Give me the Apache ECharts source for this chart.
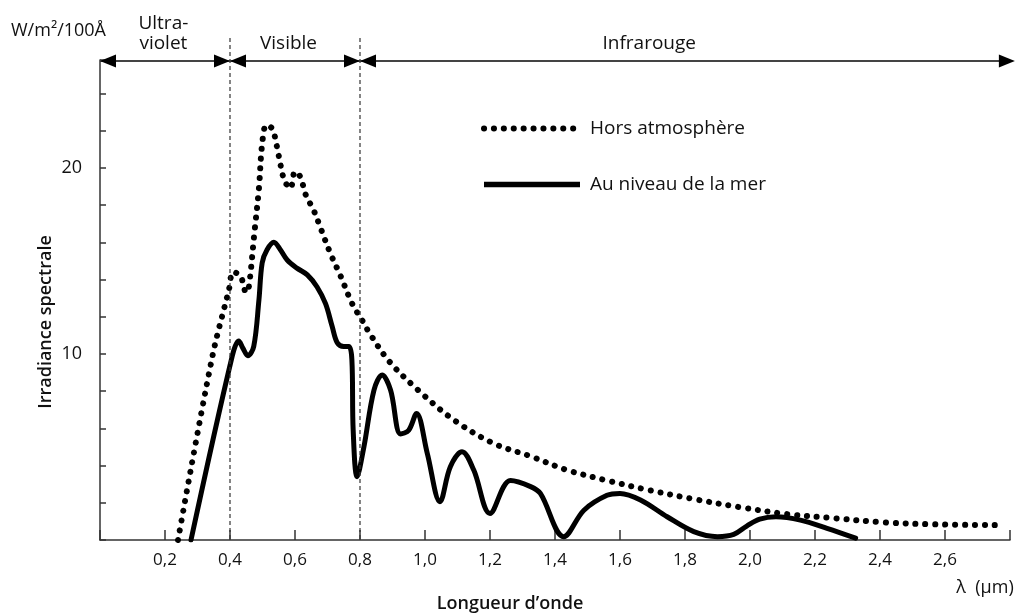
<!DOCTYPE html>
<html>
<head>
<meta charset="utf-8">
<script src="https://cdn.jsdelivr.net/npm/echarts@6/dist/echarts.min.js"></script>
<style>
html,body{margin:0;padding:0;background:#fff;}
#chart{width:1020px;height:614px;}
</style>
</head>
<body>
<div id="chart"></div>
<script>
// ---- Data ----
const seriesNames = ['Hors atmosphère', 'Au niveau de la mer'];
// Hors atmosphère (dotted)
const outsideX = [0.24, 0.345, 0.396, 0.41, 0.432, 0.45, 0.458, 0.475, 0.489, 0.499, 0.512, 0.53, 0.545, 0.555, 0.568, 0.586, 0.6, 0.617, 0.632, 0.658, 0.678, 0.709, 0.74, 0.776, 0.807, 0.83, 0.89, 0.976, 1.089, 1.21, 1.325, 1.437, 1.56, 1.684, 1.827, 1.97, 2.11, 2.26, 2.41, 2.57, 2.755];
const outsideY = [0, 9.8, 13.4, 14.4, 14.2, 13.3, 13.6, 16.5, 18.9, 21.3, 22.3, 22.1, 21.1, 20.2, 19.3, 18.9, 19.8, 19.5, 18.6, 17.7, 16.8, 15.4, 14.2, 12.7, 11.8, 11.1, 9.6, 8.1, 6.45, 5.2, 4.5, 3.76, 3.2, 2.7, 2.2, 1.76, 1.4, 1.17, 0.95, 0.84, 0.8];
// Au niveau de la mer (solid)
const seaX = [0.28, 0.407, 0.427, 0.44, 0.455, 0.473, 0.489, 0.499, 0.514, 0.535, 0.555, 0.576, 0.607, 0.638, 0.668, 0.694, 0.714, 0.73, 0.75, 0.766, 0.775, 0.779, 0.791, 0.812, 0.843, 0.868, 0.894, 0.925, 0.95, 0.974, 1.007, 1.046, 1.078, 1.114, 1.15, 1.2, 1.263, 1.325, 1.355, 1.427, 1.489, 1.56, 1.6, 1.663, 1.745, 1.827, 1.9, 1.95, 1.99, 2.03, 2.08, 2.155, 2.237, 2.325];
const seaY = [0, 9.9, 10.7, 10.3, 9.9, 10.4, 12.9, 14.9, 15.6, 16.0, 15.6, 15.05, 14.6, 14.25, 13.6, 12.7, 11.5, 10.6, 10.4, 10.4, 9.7, 5.9, 3.4, 5.0, 8.06, 8.87, 8.06, 5.7, 5.9, 6.8, 4.66, 2.06, 3.94, 4.75, 3.76, 1.43, 3.2, 2.87, 2.5, 0.18, 1.6, 2.4, 2.5, 2.15, 1.25, 0.45, 0.18, 0.3, 0.75, 1.12, 1.25, 1.07, 0.63, 0.1];
// Axis ranges / ticks
const xMin = 0, xMax = 2.8, xStep = 0.2;
const yMin = 0, yMax = 25.8, yStep = 2;
const yLabelValues = [10, 20];
// Spectral bands
const bandEdges = [0, 0.4, 0.8, 2.815];
const bandNames = ['Ultra-\nviolet', 'Visible', 'Infrarouge'];
const bandLabelX = [0.195, 0.58, 1.69];
// Texts
const unitText = 'W/m²/100Å';
const yName = 'Irradiance spectrale';
const xName = 'Longueur d’onde';
const xUnit = 'λ  (µm)';

const FONT = '"Open Sans", "Noto Sans", sans-serif';
const INK = '#111';
const DOTS = [0.1, 9.8];

function pairs(xs, ys){ return xs.map((x,i)=>[x, ys[i]]); }

const chart = echarts.init(document.getElementById('chart'), null, {renderer:'canvas'});

chart.setOption({
  animation:false,
  backgroundColor:'#fff',
  grid:{left:100, right:10, top:60, bottom:74},
  textStyle:{fontFamily:FONT},
  legend:{
    orient:'vertical', left:476, top:114, itemWidth:96, itemHeight:14, itemGap:37,
    textStyle:{fontFamily:FONT, fontSize:19, color:INK, padding:[0,0,0,5]},
    itemStyle:{opacity:0},
    data:[
      {name:seriesNames[0], itemStyle:{opacity:0}, lineStyle:{width:6, type:DOTS, cap:'round', color:'#000'}},
      {name:seriesNames[1], itemStyle:{opacity:0}, lineStyle:{width:5.5, type:'solid', cap:'butt', color:'#000'}}
    ]
  },
  xAxis:{
    type:'value', min:xMin, max:xMax, interval:xStep,
    axisLine:{show:true, lineStyle:{color:'#333', width:1.5}},
    axisTick:{show:true, inside:true, length:10, lineStyle:{color:'#333', width:1.5}},
    splitLine:{show:false},
    axisLabel:{
      fontFamily:FONT, fontSize:17, color:INK, margin:12,
      formatter:v=>{ if (v<=xMin+1e-9 || v>=xMax-1e-9) return ''; return v.toFixed(1).replace('.', ','); }
    }
  },
  yAxis:{
    type:'value', min:yMin, max:yMax, interval:yStep,
    axisLine:{show:true, lineStyle:{color:'#333', width:1.5}},
    axisTick:{show:true, inside:true, length:6, lineStyle:{color:'#333', width:1.5}},
    splitLine:{show:false},
    axisLabel:{
      fontFamily:FONT, fontSize:18, color:INK, margin:18,
      formatter:v=>yLabelValues.indexOf(Math.round(v*100)/100)>=0 ? String(v) : ''
    }
  },
  series:[
    {
      name:seriesNames[0], type:'line', data:pairs(outsideX, outsideY),
      smooth:0.35, showSymbol:false, symbol:'none',
      itemStyle:{color:'#000'},
      lineStyle:{color:'#000', width:6, type:DOTS, cap:'round'}
    },
    {
      name:seriesNames[1], type:'line', data:pairs(seaX, seaY),
      smooth:0.35, showSymbol:false, symbol:'none',
      itemStyle:{color:'#000'},
      lineStyle:{color:'#000', width:5, cap:'round', join:'round'}
    }
  ]
});

// Decorations positioned through the chart's own coordinate conversion
const px = v => chart.convertToPixel({gridIndex:0}, [v, yMin])[0];
const yTop = chart.convertToPixel({gridIndex:0}, [xMin, yMax])[1] + 1;
const yBottom = chart.convertToPixel({gridIndex:0}, [xMin, yMin])[1];
const g = [];
const AH = 16, AW = 6.5;
const x0 = px(bandEdges[0]), xEnd = px(bandEdges[bandEdges.length-1]);
g.push({type:'line', shape:{x1:x0, y1:yTop, x2:xEnd-4, y2:yTop}, style:{stroke:'#444', lineWidth:2}, z:10});
function headLeft(x){ g.push({type:'polygon', shape:{points:[[x,yTop],[x+AH,yTop-AW],[x+AH,yTop+AW]]}, style:{fill:'#000'}, z:11}); }
function headRight(x){ g.push({type:'polygon', shape:{points:[[x,yTop],[x-AH,yTop-AW],[x-AH,yTop+AW]]}, style:{fill:'#000'}, z:11}); }
headLeft(x0);
headRight(xEnd);
for (let i=1;i<bandEdges.length-1;i++){
  const x = px(bandEdges[i]);
  headRight(x); headLeft(x);
  g.push({type:'line', shape:{x1:x, y1:38, x2:x, y2:yBottom}, style:{stroke:'#333', lineWidth:1.2, lineDash:[4,3]}, z:9});
}
bandNames.forEach((n,i)=>{
  g.push({type:'text', x:px(bandLabelX[i]), y:54, style:{text:n, fontFamily:FONT, fontSize:19, fill:INK, align:'center', verticalAlign:'bottom', lineHeight:20}, z:12});
});
g.push({type:'text', x:11, y:31, style:{text:unitText, fontFamily:FONT, fontSize:18, fill:INK, align:'left', verticalAlign:'middle'}});
g.push({type:'text', x:46, y:322, rotation:Math.PI/2, style:{text:yName, fontFamily:FONT, fontSize:18, fontWeight:600, fill:INK, align:'center', verticalAlign:'middle'}});
g.push({type:'text', x:510, y:604, style:{text:xName, fontFamily:FONT, fontSize:18, fontWeight:600, fill:INK, align:'center', verticalAlign:'middle'}});
g.push({type:'text', x:985, y:588, style:{text:xUnit, fontFamily:FONT, fontSize:18, fill:INK, align:'center', verticalAlign:'middle'}});
chart.setOption({graphic:g});
</script>
</body>
</html>
